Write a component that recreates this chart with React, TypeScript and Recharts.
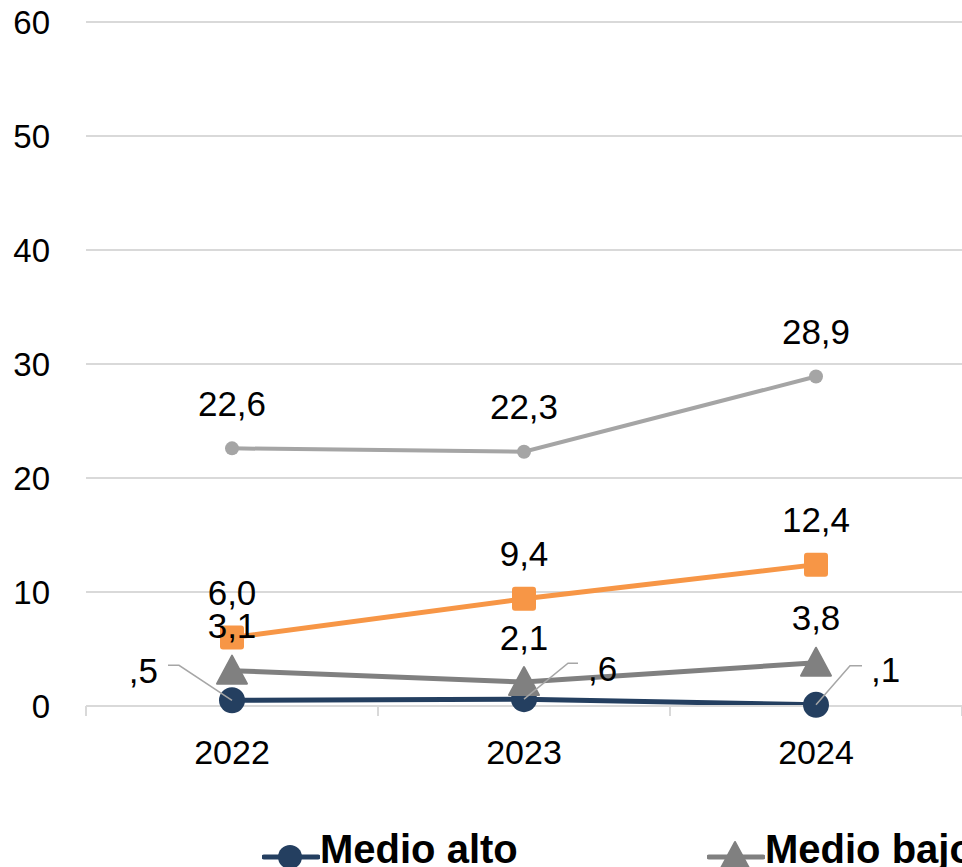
import { LineChart, Line, XAxis, YAxis, CartesianGrid, LabelList } from "recharts";

const years = ["2022", "2023", "2024"];
const medioAlto = [0.5, 0.6, 0.1];
const medioBajo = [3.1, 2.1, 3.8];
const serieNaranja = [6.0, 9.4, 12.4];
const serieGris = [22.6, 22.3, 28.9];
const yTicks = [0, 10, 20, 30, 40, 50, 60];

const chartData = years.map((year, i) => ({
    year,
    alto: medioAlto[i],
    bajo: medioBajo[i],
    naranja: serieNaranja[i],
    gris: serieGris[i],
}));

const NAVY = "#243F60";
const GRAY = "#808080";
const ORANGE = "#F79646";
const LIGHT = "#A5A5A5";
const AXIS = "#D9D9D9";
const FONT = '"Liberation Sans", Arial, sans-serif';
const PAD = 146; // half category width

const fmt = (v: number) => v.toFixed(1).replace(".", ",").replace(/^0,/, ",");

// leader-line placement for the small "Medio alto" labels
const leaders = [
    { knee: [-53, -35], end: [-64, -35], text: [-74, -30], anchor: "end" },
    { knee: [44, -36], end: [54, -36], text: [64, -31], anchor: "start" },
    { knee: [34, -39], end: [46, -39], text: [55, -35], anchor: "start" },
];

const TopLabel = (props: any) => {
    const { x, y, value } = props;
    return (
        <text x={x} y={y - 45} textAnchor="middle" dominantBaseline="central"
            fontSize={35} fontFamily={FONT} fill="#000">
            {fmt(value)}
        </text>
    );
};

const LeaderLabel = (props: any) => {
    const { x, y, value, index } = props;
    const l = leaders[index];
    return (
        <g>
            <polyline
                points={`${x},${y} ${x + l.knee[0]},${y + l.knee[1]} ${x + l.end[0]},${y + l.end[1]}`}
                fill="none" stroke="#A6A6A6" strokeWidth={1.5} />
            <text x={x + l.text[0]} y={y + l.text[1]} textAnchor={l.anchor as any}
                dominantBaseline="central" fontSize={35} fontFamily={FONT} fill="#000">
                {fmt(value)}
            </text>
        </g>
    );
};

// category tick: label in the middle, tick marks on the category boundaries
const YearTick = (props: any) => {
    const { x, y, payload, index } = props;
    return (
        <g>
            <line x1={x - PAD} x2={x - PAD} y1={y} y2={y + 10} stroke={AXIS} strokeWidth={2} />
            {index === years.length - 1 && (
                <line x1={x + PAD} x2={x + PAD} y1={y} y2={y + 10} stroke={AXIS} strokeWidth={2} />
            )}
            <text x={x} y={y + 46} textAnchor="middle" dominantBaseline="central"
                fontSize={34} fontFamily={FONT} fill="#000">
                {payload.value}
            </text>
        </g>
    );
};

const Square = (props: any) => {
    const { cx, cy } = props;
    return <rect x={cx - 12} y={cy - 12} width={24} height={24} rx={3} fill={ORANGE} />;
};

const Triangle = (props: any) => {
    const { cx, cy } = props;
    return (
        <path d={`M${cx},${cy - 15} L${cx + 15},${cy + 13} L${cx - 15},${cy + 13} Z`}
            fill={GRAY} stroke={GRAY} strokeWidth={2} strokeLinejoin="round" />
    );
};

const legendItems = [
    { name: "Medio alto", color: NAVY, shape: "circle", left: 262 },
    { name: "Medio bajo", color: GRAY, shape: "triangle", left: 707 },
];

export default function App() {
    return (
        <div style={{ position: "absolute", left: 0, top: 0, width: 962, height: 867, overflow: "hidden", background: "#fff" }}>
            <LineChart width={962} height={867} data={chartData}
                margin={{ top: 22, right: 0, bottom: 101, left: 0 }}>
                <CartesianGrid horizontal vertical={false} stroke={AXIS} strokeWidth={2} />
                <XAxis dataKey="year" padding={{ left: PAD, right: PAD }} height={60}
                    axisLine={{ stroke: AXIS, strokeWidth: 2 }} tickLine={false}
                    tickSize={0} tickMargin={0} tick={<YearTick />} interval={0} />
                <YAxis width={86} domain={[0, 60]} ticks={yTicks} axisLine={false}
                    tickLine={false} tickMargin={30}
                    tick={{ fontSize: 33, fontFamily: FONT, fill: "#000" }} />

                <Line dataKey="alto" stroke={NAVY} strokeWidth={5} isAnimationActive={false}
                    dot={{ r: 13, fill: NAVY, stroke: NAVY, strokeWidth: 0 }} activeDot={false} />
                <Line dataKey="bajo" stroke={GRAY} strokeWidth={5} isAnimationActive={false}
                    dot={<Triangle />} activeDot={false} />
                <Line dataKey="naranja" stroke={ORANGE} strokeWidth={5} isAnimationActive={false}
                    dot={<Square />} activeDot={false} />
                <Line dataKey="gris" stroke={LIGHT} strokeWidth={4} isAnimationActive={false}
                    dot={{ r: 7, fill: LIGHT, stroke: LIGHT, strokeWidth: 0 }} activeDot={false} />

                {/* labels drawn last so they sit above every series */}
                <Line dataKey="alto" stroke="none" dot={false} activeDot={false} isAnimationActive={false} legendType="none">
                    <LabelList dataKey="alto" content={<LeaderLabel />} />
                </Line>
                <Line dataKey="bajo" stroke="none" dot={false} activeDot={false} isAnimationActive={false} legendType="none">
                    <LabelList dataKey="bajo" content={<TopLabel />} />
                </Line>
                <Line dataKey="naranja" stroke="none" dot={false} activeDot={false} isAnimationActive={false} legendType="none">
                    <LabelList dataKey="naranja" content={<TopLabel />} />
                </Line>
                <Line dataKey="gris" stroke="none" dot={false} activeDot={false} isAnimationActive={false} legendType="none">
                    <LabelList dataKey="gris" content={<TopLabel />} />
                </Line>
            </LineChart>

            {legendItems.map((item) => (
                <div key={item.name} style={{ position: "absolute", left: item.left, top: 821, display: "flex", alignItems: "center", whiteSpace: "nowrap" }}>
                    <svg width={58} height={40}>
                        <line x1={2} y1={28} x2={56} y2={28} stroke={item.color} strokeWidth={5} strokeLinecap="round" />
                        {item.shape === "circle" ? (
                            <circle cx={28} cy={28} r={12} fill={item.color} />
                        ) : (
                            <path d="M28,13 L42,39 L14,39 Z" fill={item.color} stroke={item.color} strokeWidth={2} strokeLinejoin="round" />
                        )}
                    </svg>
                    <span style={{ fontFamily: FONT, fontWeight: 700, fontSize: 40, lineHeight: "56px", color: "#000" }}>
                        {item.name}
                    </span>
                </div>
            ))}
        </div>
    );
}
